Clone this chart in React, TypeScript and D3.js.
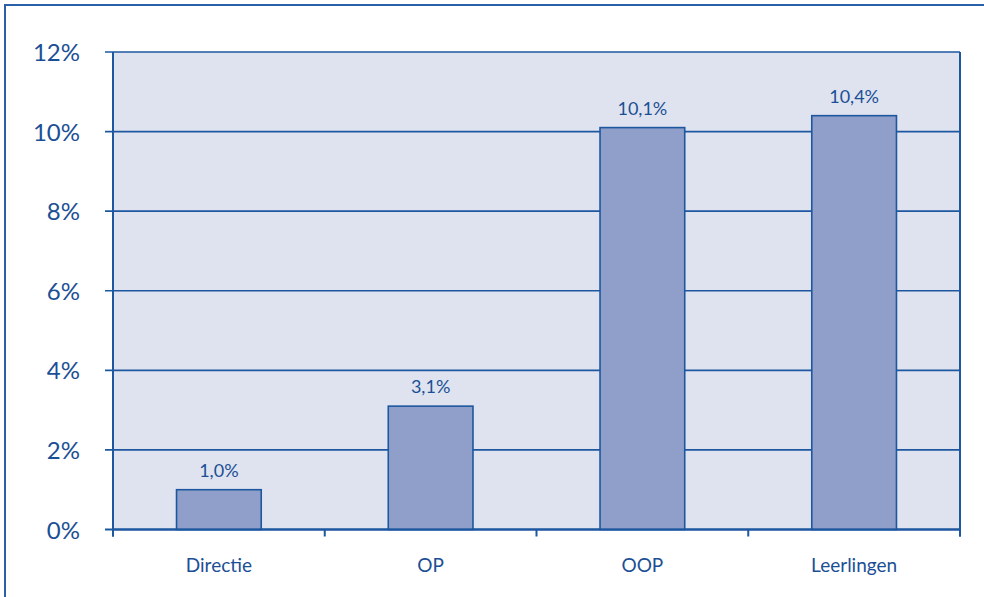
import React from "react";
import * as d3 from "d3";

const categories = ["Directie", "OP", "OOP", "Leerlingen"];
const values = [1.0, 3.1, 10.1, 10.4];
const valueLabels = ["1,0%", "3,1%", "10,1%", "10,4%"];
const yTicks = [0, 2, 4, 6, 8, 10, 12];

const W = 984;
const H = 597;
const left = 113;
const right = 960;
const top = 52;
const bottom = 529.5;

const LINE = "#1c57a0";
const TEXT = "#1b4f95";
const FONT = "Lato, 'Open Sans', sans-serif";

export default function App() {
  const xb = d3.scaleBand<string>().domain(categories).range([left, right]);
  const y = d3.scaleLinear().domain([0, 12]).range([bottom, top]);
  const bandTicks = [left, ...categories.map((c) => (xb(c) as number) + xb.bandwidth())];
  const barW = xb.bandwidth() * 0.4;

  return (
    <div style={{ position: "fixed", left: 0, top: 0 }}>
      <svg width={W} height={H} style={{ display: "block", background: "#ffffff" }}>
        <rect x={5} y={5} width={W + 10} height={H + 10} fill="none" stroke="#2a60a8" strokeWidth={2} />
        <rect x={left} y={top} width={right - left} height={bottom - top} fill="#dfe3ef" />
        {yTicks.map((t) => (
          <g key={t}>
            <line x1={left - 8} x2={right} y1={y(t)} y2={y(t)} stroke={LINE} strokeWidth={t === 0 ? 2 : 1.6} />
            <text
              x={80}
              y={y(t)}
              dy="0.38em"
              textAnchor="end"
              fill={TEXT}
              fontFamily={FONT}
              fontSize={24}
            >
              {t}%
            </text>
          </g>
        ))}
        <line x1={left} x2={left} y1={top} y2={bottom + 7} stroke={LINE} strokeWidth={2} />
        <line x1={right} x2={right} y1={top} y2={bottom + 7} stroke={LINE} strokeWidth={2} />
        {bandTicks.map((t, i) => (
          <line key={i} x1={t} x2={t} y1={bottom} y2={bottom + 7} stroke={LINE} strokeWidth={2} />
        ))}
        {categories.map((c, i) => {
          const cx = (xb(c) as number) + xb.bandwidth() / 2;
          return (
            <g key={c}>
              <rect
                x={cx - barW / 2}
                y={y(values[i])}
                width={barW}
                height={bottom - y(values[i])}
                fill="#909fc9"
                stroke={LINE}
                strokeWidth={1.6}
              />
              <text
                x={cx}
                y={y(values[i]) - 13}
                textAnchor="middle"
                fill={TEXT}
                fontFamily={FONT}
                fontSize={18}
              >
                {valueLabels[i]}
              </text>
              <text x={cx} y={572} textAnchor="middle" fill={TEXT} fontFamily={FONT} fontSize={19}>
                {c}
              </text>
            </g>
          );
        })}
        <line x1={left} x2={right} y1={bottom} y2={bottom} stroke={LINE} strokeWidth={2} />
      </svg>
    </div>
  );
}
